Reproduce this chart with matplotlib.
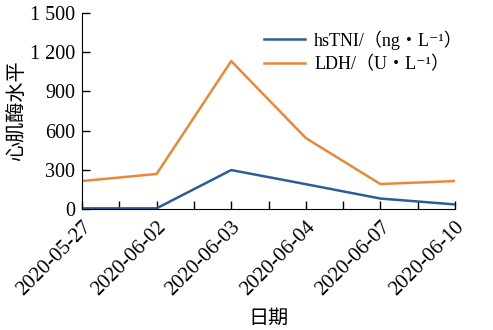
import numpy as np
import matplotlib.pyplot as plt
from matplotlib.ticker import FixedLocator

dates = ["2020-05-27", "2020-06-02", "2020-06-03", "2020-06-04", "2020-06-07", "2020-06-10"]
hstni = [5, 5, 298, 190, 80, 35]
ldh = [214, 268, 1132, 543, 191, 214]
yticks = [0, 300, 600, 900, 1200, 1500]
ytick_labels = ["0", "300", "600", "900", "1 200", "1 500"]

serif = ["Liberation Serif", "DejaVu Serif", "Noto Sans CJK SC"]
cjk = ["Noto Sans CJK SC", "Liberation Serif"]

fig = plt.figure(figsize=(4.93, 3.3), dpi=100)
ax = fig.add_axes([82 / 493, 1 - 209 / 330, (455 - 82) / 493, (209 - 13) / 330])

x = np.arange(len(dates))
ax.plot(x, hstni, color="#2b5d97", lw=1.8, label="hsTNI/（ng・L⁻¹）")
ax.plot(x, ldh, color="#e8883a", lw=1.8, label="LDH/（U・L⁻¹）")

ax.set_xlim(0, len(dates) - 1)
ax.set_ylim(0, 1500)
ax.spines["top"].set_visible(False)
ax.spines["right"].set_visible(False)
ax.set_xticks(x)
ax.set_xticklabels(dates, rotation=45, ha="right", rotation_mode="anchor",
                   family=serif, fontsize=15)
ax.xaxis.set_minor_locator(FixedLocator(x[:-1] + 0.5))
ax.set_yticks(yticks)
ax.set_yticklabels(ytick_labels, family=serif, fontsize=14.5)
ax.tick_params(axis="both", which="both", direction="in", length=6, width=1)
ax.tick_params(axis="x", which="major", pad=6)
ax.tick_params(axis="y", pad=5)

ax.set_xlabel("日期", family=cjk, fontsize=14.5, labelpad=6)
ax.set_ylabel("心肌酶水平", family=cjk, fontsize=14.5, labelpad=2)

leg = ax.legend(loc="upper right", frameon=False, prop={"family": serif, "size": 13},
                handlelength=2.3, handletextpad=0.5, labelspacing=0.35,
                bbox_to_anchor=(1.065, 0.995))

fig.savefig("out.png", dpi=100)
